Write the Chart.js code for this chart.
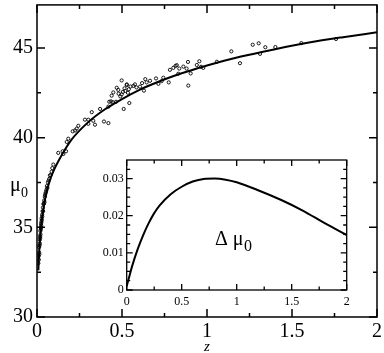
<!DOCTYPE html>
<html>
<head>
<meta charset="utf-8">
<script src="https://cdn.jsdelivr.net/npm/chart.js@4.4.0/dist/chart.umd.min.js"></script>
<style>
  body { margin: 0; background: #fff; }
  #wrap { position: relative; width: 384px; height: 353px; }
  #main { position: absolute; left: 0; top: 0; }
  #inset { position: absolute; left: 90px; top: 150px; }
</style>
</head>
<body>
<div id="wrap">
  <canvas id="main" width="384" height="353"></canvas>
  <canvas id="inset" width="270" height="165"></canvas>
</div>
<script>
// supernova points (z, distance modulus)
var snZ = [0.008, 0.010, 0.011, 0.012, 0.013, 0.014, 0.015, 0.016, 0.017, 0.018, 0.019, 0.020, 0.021, 0.022, 0.023, 0.024,
  0.025, 0.026, 0.027, 0.028, 0.030, 0.031, 0.033, 0.035, 0.036, 0.038, 0.040, 0.042, 0.044, 0.046, 0.048, 0.050,
  0.053, 0.056, 0.058, 0.061, 0.064, 0.068, 0.072, 0.076, 0.080, 0.086, 0.090, 0.096,
  0.125, 0.151, 0.155, 0.171, 0.175, 0.184, 0.210, 0.224, 0.233, 0.243, 0.282, 0.302, 0.302, 0.322, 0.331, 0.341,
  0.371, 0.394, 0.420, 0.420, 0.425, 0.435, 0.445, 0.439, 0.449, 0.465, 0.469, 0.478, 0.480, 0.490, 0.498, 0.498,
  0.505, 0.510, 0.528, 0.528, 0.515, 0.520, 0.535, 0.543, 0.540, 0.550, 0.567, 0.576, 0.585, 0.606, 0.618, 0.629,
  0.637, 0.645, 0.665, 0.700, 0.714, 0.733, 0.743, 0.775, 0.782, 0.802, 0.815, 0.822, 0.831, 0.837, 0.861, 0.880,
  0.888, 0.890, 0.904, 0.940, 0.955, 0.965, 0.978, 1.058, 1.143, 1.194, 1.269, 1.304, 1.312, 1.343, 1.402, 1.555, 1.759];
var snMu = [33.0, 33.4, 33.2, 33.6, 33.9, 33.5, 34.0, 34.3, 34.1, 34.5, 34.4, 34.8, 34.6, 35.0, 34.9, 35.2,
  35.1, 35.3, 35.5, 35.4, 35.7, 35.6, 35.9, 36.1, 35.9, 36.3, 36.3, 36.5, 36.4, 36.7, 36.8, 36.9,
  37.0, 37.1, 37.3, 37.2, 37.5, 37.6, 37.7, 37.9, 37.9, 38.1, 38.3, 38.5,
  39.15, 39.24, 39.09, 39.24, 39.76, 39.94, 40.35, 40.40, 40.50, 40.66, 41.00, 41.00, 40.77, 41.42, 40.94, 40.72,
  41.60, 40.90, 40.81, 41.73, 42.00, 42.02, 41.98, 42.34, 42.52, 42.00, 42.78, 42.66, 42.45, 42.30, 42.41, 43.19,
  42.55, 41.60, 42.93, 42.97, 42.75, 42.60, 42.50, 41.93, 42.70, 42.85, 42.88, 42.97, 42.80, 42.84, 43.04, 42.62,
  43.26, 43.08, 43.17, 43.30, 43.00, 43.15, 43.34, 43.08, 43.78, 43.89, 44.00, 44.04, 43.56, 43.85, 43.96, 43.85,
  44.22, 42.90, 43.58, 44.05, 44.26, 43.95, 43.89, 44.23, 44.81, 44.15, 45.18, 45.26, 44.67, 45.04, 45.05, 45.27, 45.50];

// model curve
var fitZ = [0.008, 0.01, 0.02, 0.03, 0.05, 0.075, 0.1, 0.15, 0.2, 0.3, 0.4, 0.5, 0.6, 0.7, 0.8, 0.9, 1.0, 1.2, 1.4, 1.6, 1.8, 2.0];
var fitMu = [32.6, 33.1, 34.6, 35.5, 36.7, 37.6, 38.2, 39.1, 39.85, 40.85, 41.58, 42.15, 42.65, 43.06, 43.42, 43.73, 44.02, 44.52, 44.93, 45.3, 45.6, 45.87];

// inset curve
var dZ = [0, 0.025, 0.05, 0.1, 0.15, 0.2, 0.25, 0.3, 0.4, 0.5, 0.6, 0.7, 0.8, 0.9, 1.0, 1.2, 1.4, 1.6, 1.8, 2.0];
var dMu = [0.001, 0.0038, 0.0065, 0.011, 0.0148, 0.018, 0.0207, 0.0228, 0.0258, 0.0278, 0.0292, 0.0299, 0.0300, 0.0297, 0.0290, 0.0268, 0.0243, 0.0214, 0.0180, 0.0148];

// ticks
var xTicks = [0, 0.5, 1, 1.5, 2];
var xTickLabels = ['0', '0.5', '1', '1.5', '2'];
var xMinor = [0.25, 0.75, 1.25, 1.75];
var yTicks = [30, 35, 40, 45];
var yTickLabels = ['30', '35', '40', '45'];
var yMinor = [32.5, 37.5, 42.5, 47.5];
var inYTicks = [0, 0.01, 0.02, 0.03];
var inYTickLabels = ['0', '0.01', '0.02', '0.03'];
var inYMinor = [0.0025, 0.005, 0.0075, 0.0125, 0.015, 0.0175, 0.0225, 0.025, 0.0275, 0.0325];

var serif = "'Liberation Serif', 'DejaVu Serif', serif";

function pairs(xs, ys) {
  return xs.map(function(x, i) { return { x: x, y: ys[i] }; });
}

// no extra room for half tick labels, the layout padding handles it
function noPad(s) {
  s.paddingTop = 0; s.paddingBottom = 0; s.paddingLeft = 0; s.paddingRight = 0;
}

// frame + inward ticks on all four sides
function frameTicks(major, minor) {
  return {
    id: 'frameTicks',
    afterDraw: function(chart) {
      var ctx = chart.ctx, a = chart.chartArea;
      var sx = chart.scales.x, sy = chart.scales.y;
      var o = chart.options.plugins.frameTicks;
      ctx.save();
      ctx.strokeStyle = '#000';
      ctx.lineWidth = o.lw;
      ctx.strokeRect(a.left, a.top, a.right - a.left, a.bottom - a.top);
      function xt(v, len) {
        var p = sx.getPixelForValue(v);
        ctx.beginPath();
        ctx.moveTo(p, a.bottom); ctx.lineTo(p, a.bottom - len);
        ctx.moveTo(p, a.top); ctx.lineTo(p, a.top + len);
        ctx.stroke();
      }
      function yt(v, len) {
        var p = sy.getPixelForValue(v);
        if (p < a.top) return;
        ctx.beginPath();
        ctx.moveTo(a.left, p); ctx.lineTo(a.left + len, p);
        ctx.moveTo(a.right, p); ctx.lineTo(a.right - len, p);
        ctx.stroke();
      }
      o.xMajor.forEach(function(v) { xt(v, major); });
      o.xMinor.forEach(function(v) { xt(v, minor); });
      o.yMajor.forEach(function(v) { yt(v, major); });
      o.yMinor.forEach(function(v) { yt(v, minor); });
      ctx.restore();
    }
  };
}

function label(id, parts) {
  return {
    id: id,
    afterDraw: function(chart) {
      var ctx = chart.ctx;
      ctx.save();
      ctx.fillStyle = '#000';
      ctx.textBaseline = 'alphabetic';
      parts.forEach(function(p) {
        ctx.font = p.size + 'px ' + serif;
        ctx.fillText(p.text, p.x, p.y);
      });
      ctx.restore();
    }
  };
}

new Chart(document.getElementById('main'), {
  type: 'scatter',
  data: {
    datasets: [{
      data: pairs(fitZ, fitMu),
      showLine: true,
      borderColor: '#000',
      borderWidth: 2,
      pointRadius: 0,
      cubicInterpolationMode: 'monotone'
    }, {
      data: pairs(snZ, snMu),
      pointRadius: 1.6,
      pointBorderWidth: 0.9,
      pointBorderColor: '#000',
      pointBackgroundColor: 'rgba(255,255,255,0)'
    }]
  },
  options: {
    responsive: false,
    animation: false,
    devicePixelRatio: 1,
    layout: { padding: { top: 2, right: 7, left: 0, bottom: 0 } },
    plugins: {
      legend: { display: false },
      tooltip: { enabled: false },
      frameTicks: { lw: 1.5, xMajor: xTicks, xMinor: xMinor, yMajor: yTicks, yMinor: yMinor }
    },
    scales: {
      x: {
        type: 'linear', min: 0, max: 2,
        afterBuildTicks: function(s) { s.ticks = xTicks.map(function(v) { return { value: v }; }); },
        afterFit: function(s) { s.height = 36; noPad(s); },
        grid: { display: false, drawTicks: false },
        border: { display: false },
        ticks: {
          padding: 3, maxRotation: 0, color: '#000',
          font: { family: serif, size: 20 },
          callback: function(v) { return xTickLabels[xTicks.indexOf(v)]; }
        },
        title: { display: true, text: 'z', color: '#000', padding: 0, font: { family: serif, size: 15, style: 'italic', lineHeight: 0.8 } }
      },
      y: {
        type: 'linear', min: 30, max: 47.4,
        afterBuildTicks: function(s) { s.ticks = yTicks.map(function(v) { return { value: v }; }); },
        afterFit: function(s) { s.width = 37; noPad(s); },
        grid: { display: false, drawTicks: false },
        border: { display: false },
        ticks: {
          padding: 4, color: '#000',
          font: { family: serif, size: 20 },
          callback: function(v) { return yTickLabels[yTicks.indexOf(v)]; }
        }
      }
    }
  },
  plugins: [frameTicks(8, 4), label('muLabel', [
    { text: 'μ', size: 20, x: 10, y: 191 },
    { text: '0', size: 14, x: 21, y: 197 }
  ])]
});

new Chart(document.getElementById('inset'), {
  type: 'scatter',
  data: {
    datasets: [{
      data: pairs(dZ, dMu),
      showLine: true,
      borderColor: '#000',
      borderWidth: 2,
      pointRadius: 0,
      cubicInterpolationMode: 'monotone'
    }]
  },
  options: {
    responsive: false,
    animation: false,
    devicePixelRatio: 1,
    layout: { padding: { top: 10, right: 13.3, left: 0, bottom: 0 } },
    plugins: {
      legend: { display: false },
      tooltip: { enabled: false },
      frameTicks: { lw: 1.3, xMajor: xTicks, xMinor: xMinor, yMajor: inYTicks, yMinor: inYMinor }
    },
    scales: {
      x: {
        type: 'linear', min: 0, max: 2,
        afterBuildTicks: function(s) { s.ticks = xTicks.map(function(v) { return { value: v }; }); },
        afterFit: function(s) { s.height = 25; noPad(s); },
        grid: { display: false, drawTicks: false },
        border: { display: false },
        ticks: {
          padding: 5, maxRotation: 0, color: '#000',
          font: { family: serif, size: 12 },
          callback: function(v) { return xTickLabels[xTicks.indexOf(v)]; }
        }
      },
      y: {
        type: 'linear', min: 0, max: 0.035,
        afterBuildTicks: function(s) { s.ticks = inYTicks.map(function(v) { return { value: v }; }); },
        afterFit: function(s) { s.width = 36.7; noPad(s); },
        grid: { display: false, drawTicks: false },
        border: { display: false },
        ticks: {
          padding: 3, color: '#000',
          font: { family: serif, size: 12 },
          callback: function(v) { return inYTickLabels[inYTicks.indexOf(v)]; }
        }
      }
    }
  },
  plugins: [frameTicks(6, 3.5), label('dLabel', [
    { text: 'Δ μ', size: 20, x: 125, y: 95 },
    { text: '0', size: 16, x: 154, y: 101 }
  ])]
});
</script>
</body>
</html>
